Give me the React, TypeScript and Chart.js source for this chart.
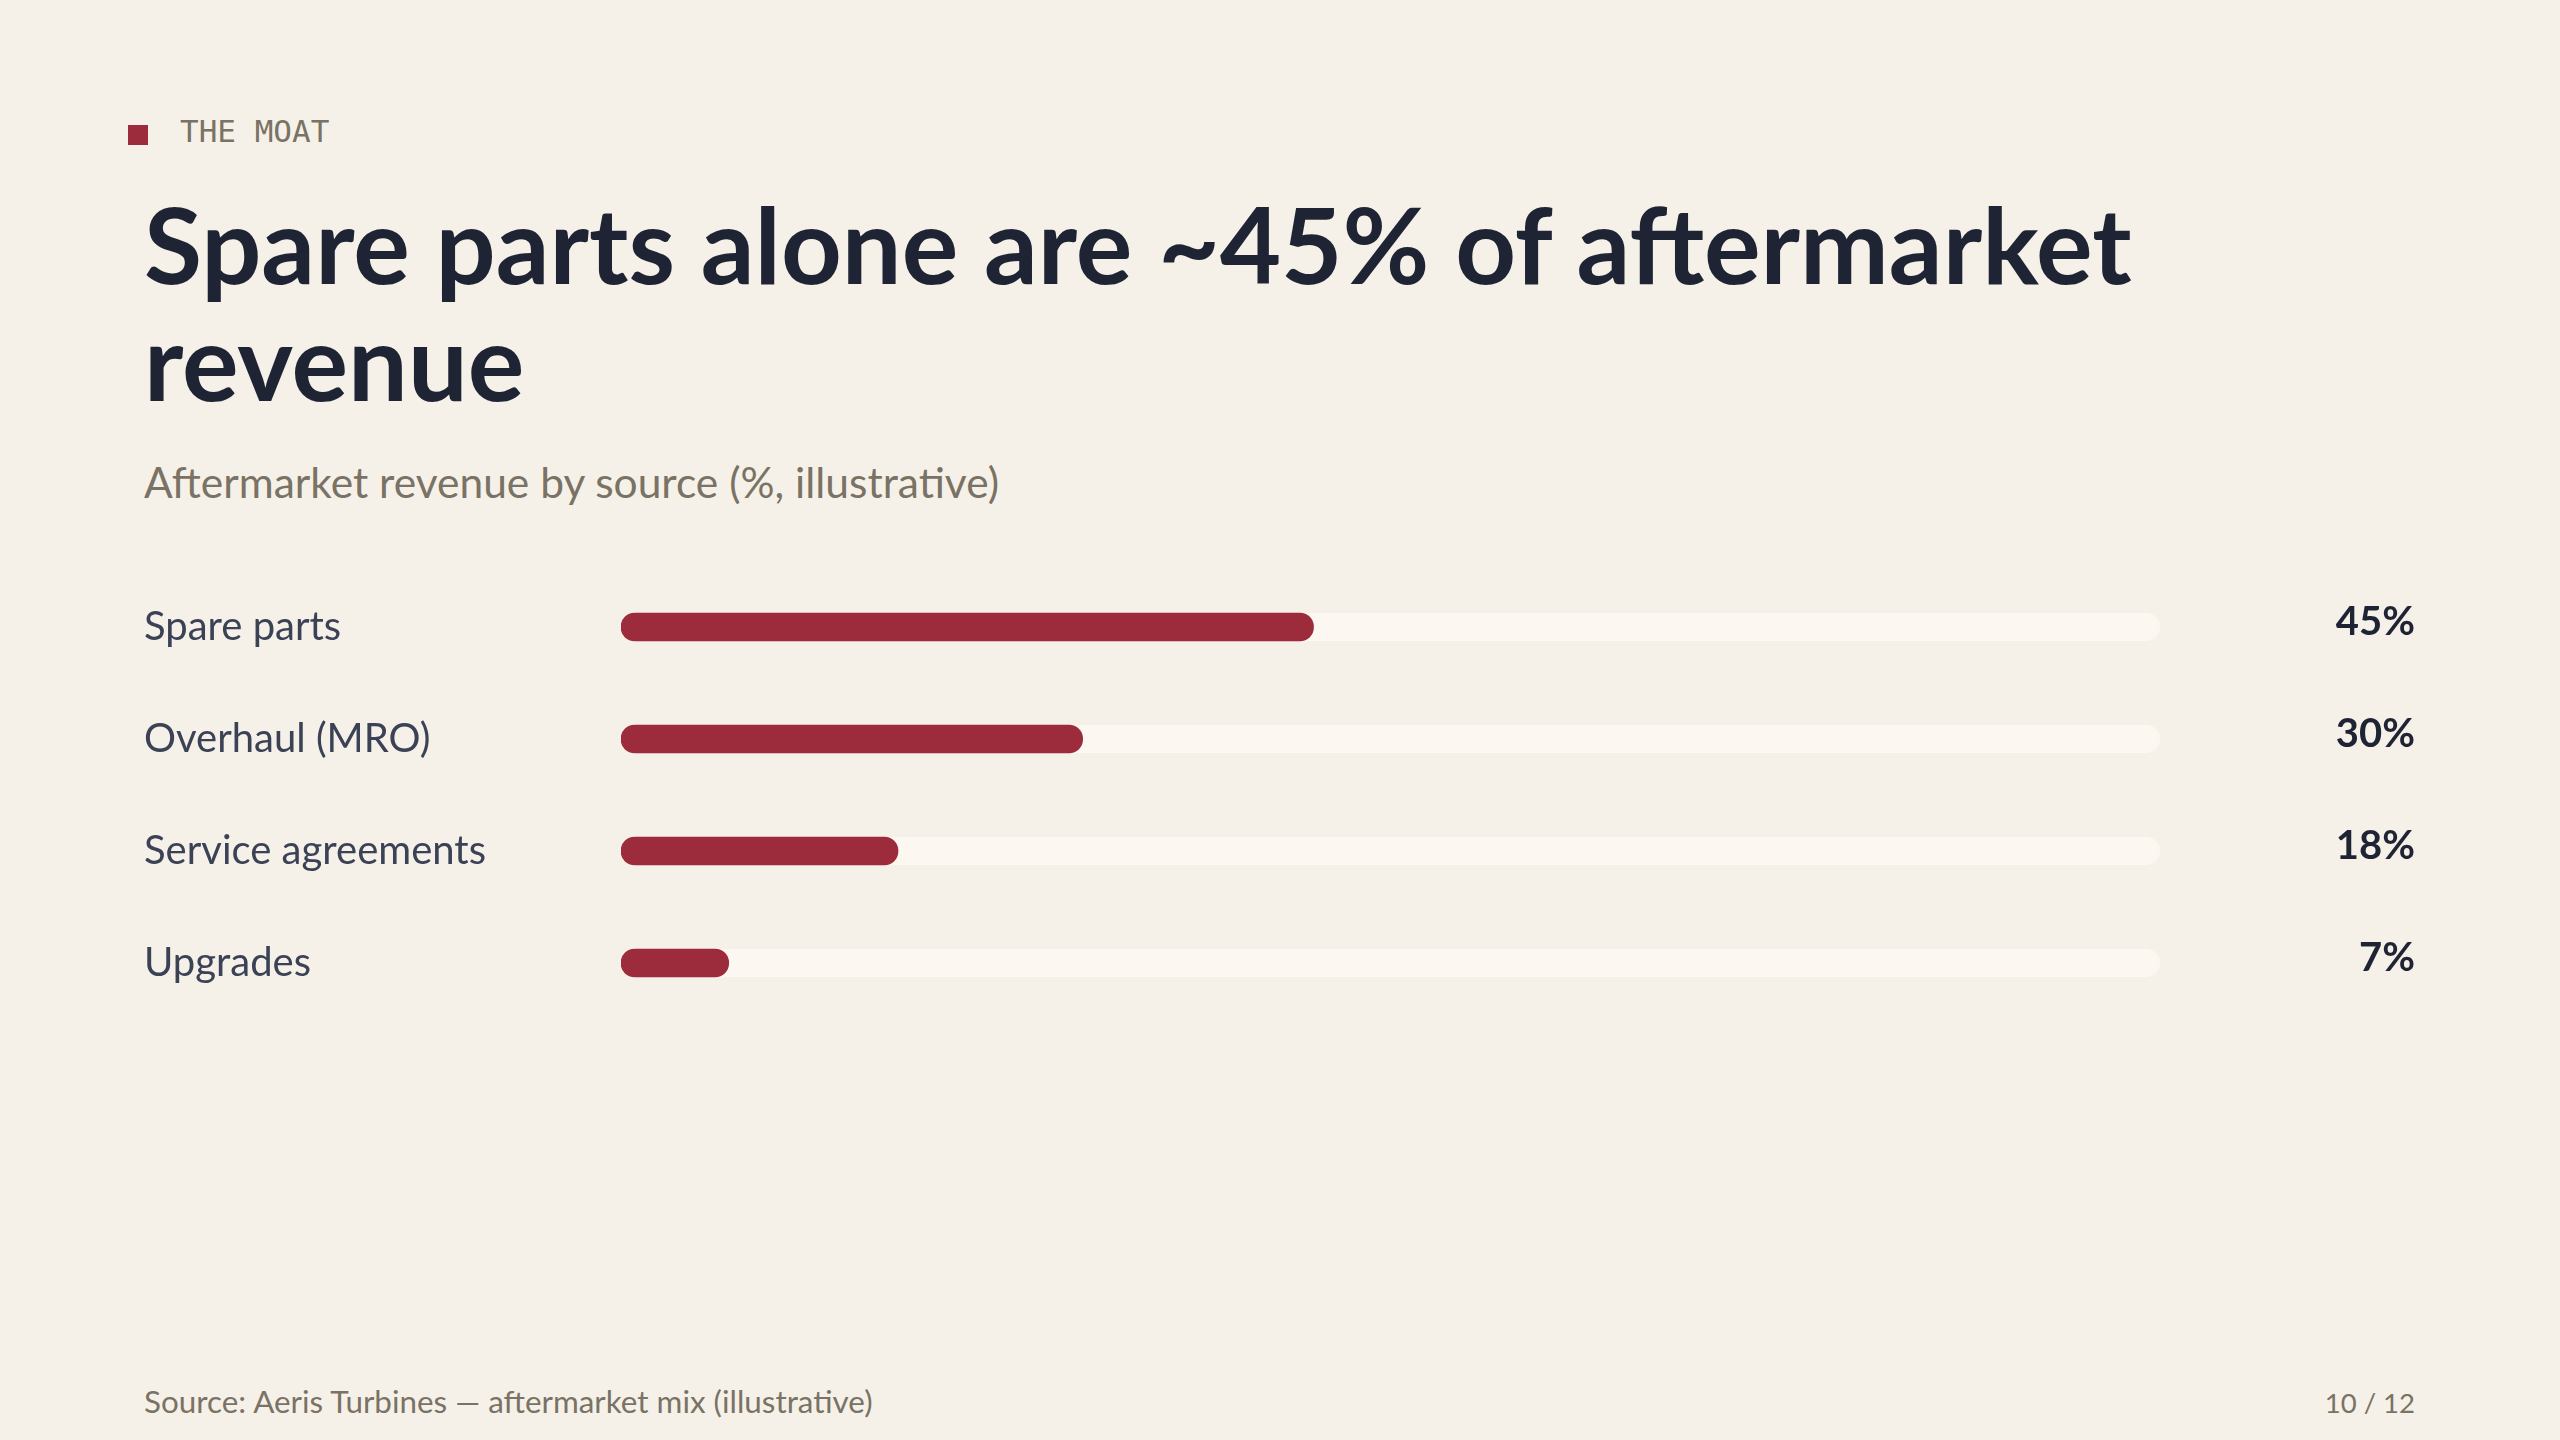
import { useEffect, useRef } from "react";
import { Chart, registerables } from "chart.js";

Chart.register(...registerables);

// Aftermarket revenue mix, percent of total
const categories = ["Spare parts", "Overhaul (MRO)", "Service agreements", "Upgrades"];
const shares = [45, 30, 18, 7];
const axisMax = 100;

const BG = "#f5f1e8";
const TRACK = "#fcf8f1";
const ACCENT = "#9c2b3c";
const INK = "#1e2433";
const LABEL = "#3b4256";
const MUTED = "#7a7264";
const SANS = "Lato, 'Noto Sans', sans-serif";

// Pale rounded track behind every bar, spanning the full 0..max range
const trackPlugin = {
  id: "tracks",
  beforeDatasetsDraw(chart: any) {
    const meta = chart.getDatasetMeta(0);
    const x = chart.scales.x;
    const x0 = x.getPixelForValue(0);
    const x1 = x.getPixelForValue(axisMax);
    const ctx = chart.ctx;
    ctx.save();
    ctx.fillStyle = TRACK;
    meta.data.forEach((bar: any) => {
      const h = bar.height;
      ctx.beginPath();
      ctx.roundRect(x0, bar.y - h / 2, x1 - x0, h, h / 2);
      ctx.fill();
    });
    ctx.restore();
  },
};

// Percentage written at the far right of each row
const valuePlugin = {
  id: "values",
  afterDatasetsDraw(chart: any) {
    const meta = chart.getDatasetMeta(0);
    const ctx = chart.ctx;
    ctx.save();
    ctx.fillStyle = INK;
    ctx.font = `700 40px ${SANS}`;
    ctx.textAlign = "right";
    ctx.textBaseline = "middle";
    meta.data.forEach((bar: any, i: number) => {
      ctx.fillText(`${shares[i]}%`, chart.width - 145, bar.y - 5);
    });
    ctx.restore();
  },
};

function BarChart() {
  const ref = useRef<HTMLCanvasElement | null>(null);
  useEffect(() => {
    if (!ref.current) return;
    const chart = new Chart(ref.current, {
      type: "bar",
      data: {
        labels: categories,
        datasets: [
          {
            data: shares,
            backgroundColor: ACCENT,
            barThickness: 28,
            borderRadius: 14,
            borderSkipped: false,
          },
        ],
      },
      options: {
        indexAxis: "y",
        responsive: false,
        animation: false,
        devicePixelRatio: 1,
        layout: { padding: { left: 144, right: 400, top: 30, bottom: 42 } },
        plugins: { legend: { display: false }, tooltip: { enabled: false } },
        scales: {
          x: { display: false, min: 0, max: axisMax },
          y: {
            grid: { display: false },
            border: { display: false },
            afterFit(scale: any) {
              scale.width = 477;
            },
            ticks: {
              crossAlign: "far",
              padding: 0,
              color: LABEL,
              font: { family: SANS, size: 40, weight: "400", lineHeight: 1.1 },
            },
          },
        },
      },
      plugins: [trackPlugin, valuePlugin],
    } as any);
    return () => chart.destroy();
  }, []);
  return (
    <canvas
      ref={ref}
      width={2560}
      height={520}
      style={{ position: "absolute", left: 0, top: 541, width: 2560, height: 520 }}
    />
  );
}

export default function App() {
  useEffect(() => {
    document.body.style.margin = "0";
    document.body.style.background = BG;
  }, []);
  return (
    <div
      style={{
        position: "absolute",
        left: 0,
        top: 0,
        width: 2560,
        height: 1440,
        background: BG,
        overflow: "hidden",
        fontFamily: SANS,
      }}
    >
      <div style={{ position: "absolute", left: 128, top: 125, width: 20, height: 20, background: ACCENT }} />
      <div
        style={{
          position: "absolute",
          left: 180,
          top: 111,
          fontFamily: "'DejaVu Sans Mono', monospace",
          fontSize: 31,
          lineHeight: "40px",
          color: MUTED,
          whiteSpace: "pre",
        }}
      >
        THE MOAT
      </div>
      <div
        style={{
          position: "absolute",
          left: 144,
          top: 185,
          width: 2271,
          fontSize: 106,
          fontWeight: 700,
          lineHeight: "117px",
          color: INK,
        }}
      >
        Spare parts alone are ~45% of aftermarket revenue
      </div>
      <div
        style={{
          position: "absolute",
          left: 144,
          top: 458,
          fontSize: 42.5,
          lineHeight: "48px",
          color: MUTED,
          whiteSpace: "nowrap",
        }}
      >
        Aftermarket revenue by source (%, illustrative)
      </div>
      <BarChart />
      <div
        style={{
          position: "absolute",
          left: 144,
          top: 1383,
          fontSize: 31.4,
          lineHeight: "36px",
          color: MUTED,
          whiteSpace: "nowrap",
        }}
      >
        Source: Aeris Turbines — aftermarket mix (illustrative)
      </div>
      <div
        style={{
          position: "absolute",
          right: 145,
          top: 1385,
          fontSize: 27.5,
          lineHeight: "36px",
          color: MUTED,
          whiteSpace: "nowrap",
        }}
      >
        10 / 12
      </div>
    </div>
  );
}
